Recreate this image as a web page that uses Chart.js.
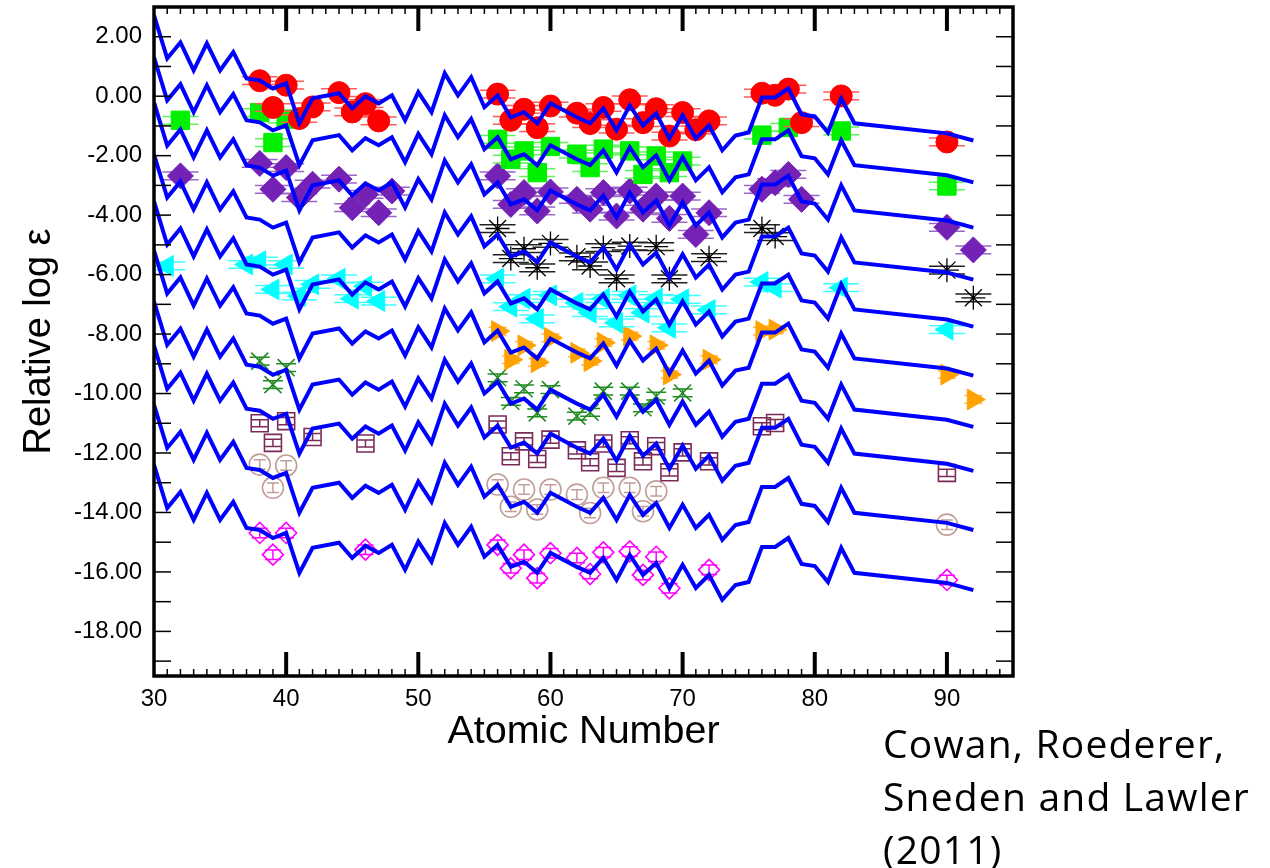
<!DOCTYPE html>
<html>
<head>
<meta charset="utf-8">
<script src="https://cdn.jsdelivr.net/npm/chart.js@4.4.1/dist/chart.umd.min.js"></script>
<style>
  html, body { margin: 0; padding: 0; background: #fff; }
  #wrap { position: relative; width: 1270px; height: 868px; }
  #credit {
    position: absolute; left: 883px; top: 716px;
    font-family: "Open Sans", "Noto Sans", sans-serif;
    font-size: 39px; line-height: 53px; letter-spacing: 1.2px; color: #000;
  }
</style>
</head>
<body>
<div id="wrap">
  <canvas id="abundChart" width="1270" height="868"></canvas>
  <div id="credit">Cowan, Roederer,<br>Sneden and Lawler<br>(2011)</div>
</div>
<script>
// Solar r-process pattern (atomic numbers and relative log eps, lowest curve)
const solarZ = [30, 31, 32, 33, 34, 35, 36, 37, 38, 39, 40, 41, 42, 44, 45, 46, 47, 48, 49, 50,
  51, 52, 53, 54, 55, 56, 57, 58, 59, 60, 62, 63, 64, 65, 66, 67, 68, 69, 70, 71,
  72, 73, 74, 75, 76, 77, 78, 79, 80, 81, 82, 83, 90, 92];
const solarLogEps = [-12.40, -13.85, -13.31, -14.25, -13.34, -14.25, -13.64, -14.52, -14.59, -14.86,
  -14.69, -16.03, -15.19, -15.02, -15.53, -15.12, -15.36, -15.09, -15.93, -14.98,
  -15.66, -14.35, -15.09, -14.48, -15.49, -15.09, -15.83, -15.66, -16.03, -15.36,
  -15.83, -16.03, -15.53, -16.27, -15.43, -16.10, -15.70, -16.54, -15.76, -16.54,
  -16.10, -16.94, -16.44, -16.34, -15.16, -15.16, -14.86, -15.73, -15.80, -16.34,
  -15.19, -16.03, -16.37, -16.61];

// vertical shift of the solar curve for each star, top to bottom
const curveOffsets = [15.12, 13.71, 12.19, 10.44, 8.86, 7.21, 5.49, 4.01, 2.02, 0];

// star abundances
const redZ = [38, 39, 40, 41, 42, 44, 45, 46, 47, 56, 57, 58, 59, 60, 62, 63, 64, 65, 66, 67, 68, 69, 70, 71, 72, 76, 77, 78, 79, 82, 90];
const redVal = [0.52, -0.38, 0.37, -0.75, -0.36, 0.12, -0.53, -0.25, -0.83, 0.07, -0.81, -0.44, -1.06, -0.33, -0.57, -0.92, -0.38, -1.11, -0.12, -0.89, -0.42, -1.34, -0.55, -1.13, -0.83, 0.10, 0.03, 0.24, -0.89, 0.01, -1.54];

const greenZ = [32, 38, 39, 40, 56, 57, 58, 59, 60, 62, 63, 64, 66, 67, 68, 69, 70, 76, 78, 82, 90];
const greenVal = [-0.81, -0.55, -1.56, -0.77, -1.45, -2.12, -1.84, -2.57, -1.69, -1.95, -2.40, -1.78, -1.84, -2.63, -2.01, -2.57, -2.18, -1.31, -1.05, -1.17, -3.02];

const purpleZ = [32, 38, 39, 40, 41, 42, 44, 45, 46, 47, 48, 56, 57, 58, 59, 60, 62, 63, 64, 65, 66, 67, 68, 69, 70, 71, 72, 76, 77, 78, 79, 90, 92];
const purpleVal = [-2.68, -2.26, -3.13, -2.40, -3.41, -2.96, -2.79, -3.75, -3.30, -3.92, -3.19, -2.68, -3.64, -3.24, -3.86, -3.22, -3.47, -3.80, -3.24, -4.03, -3.19, -3.80, -3.36, -4.11, -3.36, -4.65, -3.92, -3.13, -2.91, -2.63, -3.47, -4.41, -5.17];

const blackZ = [56, 57, 58, 59, 60, 62, 63, 64, 65, 66, 68, 69, 72, 76, 77, 90, 92];
const blackVal = [-4.45, -5.46, -5.13, -5.77, -4.95, -5.40, -5.71, -5.09, -6.14, -5.04, -5.06, -6.14, -5.43, -4.45, -4.72, -5.85, -6.78];

const cyanZ = [31, 37, 38, 39, 40, 41, 42, 44, 45, 46, 47, 56, 57, 58, 59, 60, 62, 63, 64, 65, 66, 67, 68, 69, 70, 72, 76, 77, 82, 90];
const cyanVal = [-5.71, -5.66, -5.55, -6.50, -5.66, -6.72, -6.33, -6.14, -6.81, -6.39, -6.89, -6.14, -7.08, -6.81, -7.49, -6.70, -6.95, -7.28, -6.81, -7.62, -6.70, -7.28, -6.81, -7.79, -6.83, -7.19, -6.25, -6.44, -6.44, -7.85];

const orangeZ = [56, 57, 58, 59, 60, 62, 63, 64, 66, 68, 69, 72, 76, 77, 90, 92];
const orangeVal = [-7.90, -8.86, -8.38, -8.95, -8.13, -8.63, -8.91, -8.29, -8.07, -8.38, -9.36, -8.86, -7.90, -7.85, -9.36, -10.20];

const forestZ = [38, 39, 40, 56, 57, 58, 59, 60, 62, 63, 64, 66, 67, 68, 70];
const forestVal = [-8.91, -9.70, -9.13, -9.47, -10.26, -9.84, -10.65, -9.87, -10.76, -10.63, -9.92, -9.92, -10.48, -10.09, -9.98];

const maroonZ = [38, 39, 40, 42, 46, 56, 57, 58, 59, 60, 62, 63, 64, 65, 66, 67, 68, 69, 70, 72, 76, 77, 90];
const maroonVal = [-11.00, -11.66, -10.93, -11.46, -11.68, -11.04, -12.11, -11.61, -12.20, -11.55, -11.91, -12.31, -11.68, -12.50, -11.57, -12.28, -11.77, -12.65, -11.98, -12.28, -11.10, -10.99, -12.67];

const tanZ = [38, 39, 40, 56, 57, 58, 59, 60, 62, 63, 64, 66, 67, 68, 90];
const tanVal = [-12.39, -13.17, -12.42, -13.06, -13.81, -13.23, -13.90, -13.23, -13.40, -14.02, -13.17, -13.17, -13.96, -13.29, -14.41];

const magentaZ = [38, 39, 40, 46, 56, 57, 58, 59, 60, 62, 63, 64, 66, 67, 68, 69, 72, 90];
const magentaVal = [-14.69, -15.42, -14.69, -15.25, -15.09, -15.88, -15.42, -16.21, -15.37, -15.53, -16.07, -15.34, -15.31, -16.10, -15.49, -16.55, -15.93, -16.27];

// axes
const xTickValues = [30, 40, 50, 60, 70, 80, 90];
const yTickValues = [2, 0, -2, -4, -6, -8, -10, -12, -14, -16, -18];

function points(zs, vals) {
  return zs.map((z, i) => ({ x: z, y: vals[i] }));
}

// solar curves (drawn on top of the stars)
const curveSets = curveOffsets.map(off => ({
  data: solarZ.map((z, i) => ({ x: z, y: solarLogEps[i] + off })),
  showLine: true,
  borderColor: '#0000ff',
  borderWidth: 4,
  pointRadius: 0,
  tension: 0,
  order: 0
}));

function starSet(zs, vals, style) {
  return Object.assign({
    data: points(zs, vals),
    showLine: false,
    order: 1,
    errY: 0.13,
    pointBorderWidth: 1
  }, style);
}

const starSets = [
  starSet(redZ, redVal, { pointStyle: 'circle', pointRadius: 11, backgroundColor: '#ff0000', borderColor: '#ff0000', errColor: '#ff5c5c', capW: 18 }),
  starSet(greenZ, greenVal, { pointStyle: 'rect', pointRadius: 13, backgroundColor: '#00f000', borderColor: '#00f000', errColor: '#5cf55c', capW: 18 }),
  starSet(purpleZ, purpleVal, { pointStyle: 'rectRot', pointRadius: 13, backgroundColor: '#7322b5', borderColor: '#7322b5', errColor: '#9a66cc', capW: 18 }),
  starSet(blackZ, blackVal, { pointStyle: 'star', pointRadius: 12, backgroundColor: '#000', borderColor: '#000', pointBorderWidth: 1.3, errColor: '#222', capW: 18 }),
  starSet(cyanZ, cyanVal, { pointStyle: 'triangle', pointRotation: -90, pointRadius: 12, backgroundColor: '#00ffff', borderColor: '#00ffff', errColor: '#40ffff', capW: 18 }),
  starSet(orangeZ, orangeVal, { pointStyle: 'triangle', pointRotation: 90, pointRadius: 12, backgroundColor: '#ffa200', borderColor: '#ffa200', errColor: '#ffb84d', capW: 9 }),
  starSet(forestZ, forestVal, { pointStyle: 'crossRot', pointRadius: 12, backgroundColor: '#228b22', borderColor: '#228b22', pointBorderWidth: 1.6, errColor: '#228b22', capW: 10 }),
  starSet(maroonZ, maroonVal, { pointStyle: 'rect', pointRadius: 12, backgroundColor: 'rgba(0,0,0,0)', borderColor: '#7a2b5a', pointBorderWidth: 1.6, errColor: '#7a2b5a', capW: 8, errY: 0.12 }),
  starSet(tanZ, tanVal, { pointStyle: 'circle', pointRadius: 10.5, backgroundColor: 'rgba(0,0,0,0)', borderColor: '#c19e98', pointBorderWidth: 1.6, errColor: '#c19e98', capW: 6, errY: 0.16 }),
  starSet(magentaZ, magentaVal, { pointStyle: 'rectRot', pointRadius: 10.5, backgroundColor: 'rgba(0,0,0,0)', borderColor: '#ff00ff', pointBorderWidth: 1.6, errColor: '#ff00ff', capW: 8, errY: 0.16 })
];

// vertical error bars with wide caps, drawn just before each star's markers
const errorBars = {
  id: 'errorBars',
  beforeDatasetDraw(chart, args) {
    const ds = chart.data.datasets[args.index];
    if (!ds.errY) return;
    const { ctx, chartArea: a } = chart;
    const yScale = chart.scales.y;
    ctx.save();
    ctx.beginPath();
    ctx.rect(a.left, a.top, a.width, a.height);
    ctx.clip();
    ctx.strokeStyle = ds.errColor;
    ctx.lineWidth = 1.5;
    args.meta.data.forEach((pt, i) => {
      const v = ds.data[i].y;
      const top = yScale.getPixelForValue(v + ds.errY);
      const bot = yScale.getPixelForValue(v - ds.errY);
      ctx.beginPath();
      ctx.moveTo(pt.x, top); ctx.lineTo(pt.x, bot);
      ctx.moveTo(pt.x - ds.capW, top); ctx.lineTo(pt.x + ds.capW, top);
      ctx.moveTo(pt.x - ds.capW, bot); ctx.lineTo(pt.x + ds.capW, bot);
      ctx.stroke();
    });
    ctx.restore();
  }
};

// box around the plot with inward ticks on all four sides
const frameTicks = {
  id: 'frameTicks',
  afterDraw(chart) {
    const { ctx, chartArea: a, scales: { x, y } } = chart;
    ctx.save();
    ctx.strokeStyle = '#000';
    const seg = (x1, y1, x2, y2) => { ctx.beginPath(); ctx.moveTo(x1, y1); ctx.lineTo(x2, y2); ctx.stroke(); };
    for (let z = 31; z < 95; z++) {
      const px = x.getPixelForValue(z);
      const major = z % 10 === 0;
      ctx.lineWidth = major ? 4 : 1.5;
      const len = major ? 24 : 7;
      seg(px, a.bottom, px, a.bottom - len);
      seg(px, a.top, px, a.top + len);
    }
    ctx.lineWidth = 1.5;
    for (let v = -19; v <= 2; v++) {
      const py = y.getPixelForValue(v);
      seg(a.left, py, a.left + 17, py);
      seg(a.right, py, a.right - 17, py);
    }
    ctx.lineWidth = 3.5;
    ctx.strokeRect(a.left, a.top, a.width, a.height);
    ctx.restore();
  }
};

Chart.defaults.font.family = '"Liberation Sans", Arial, sans-serif';
Chart.defaults.color = '#000';

new Chart(document.getElementById('abundChart'), {
  type: 'scatter',
  data: { datasets: [...curveSets, ...starSets] },
  options: {
    responsive: false,
    animation: false,
    layout: { autoPadding: false, padding: { left: 0, right: 257, top: 7, bottom: 0 } },
    plugins: { legend: { display: false }, tooltip: { enabled: false } },
    scales: {
      x: {
        type: 'linear',
        min: 30,
        max: 95,
        grid: { display: false, drawTicks: false },
        border: { display: false },
        afterBuildTicks: axis => { axis.ticks = xTickValues.map(v => ({ value: v })); },
        afterFit: axis => {
          axis.height = 192;
          axis.paddingLeft = 0;
          axis.paddingRight = 0;
        },
        ticks: { font: { size: 24 }, padding: 9, maxRotation: 0, callback: v => String(v) },
        title: { display: true, text: 'Atomic Number', font: { size: 39.5 }, padding: { top: 0, bottom: 112 } }
      },
      y: {
        type: 'linear',
        min: -19.5,
        max: 3,
        grid: { display: false, drawTicks: false },
        border: { display: false },
        afterBuildTicks: axis => { axis.ticks = yTickValues.map(v => ({ value: v })); },
        afterFit: axis => {
          axis.width = 154;
          axis.paddingTop = 0;
          axis.paddingBottom = 0;
        },
        ticks: { font: { size: 24 }, padding: 12, callback: v => v.toFixed(2) },
        title: { display: true, text: 'Relative log ε', font: { size: 38 }, padding: { top: 17, bottom: 0 } }
      }
    }
  },
  plugins: [errorBars, frameTicks]
});
</script>
</body>
</html>
